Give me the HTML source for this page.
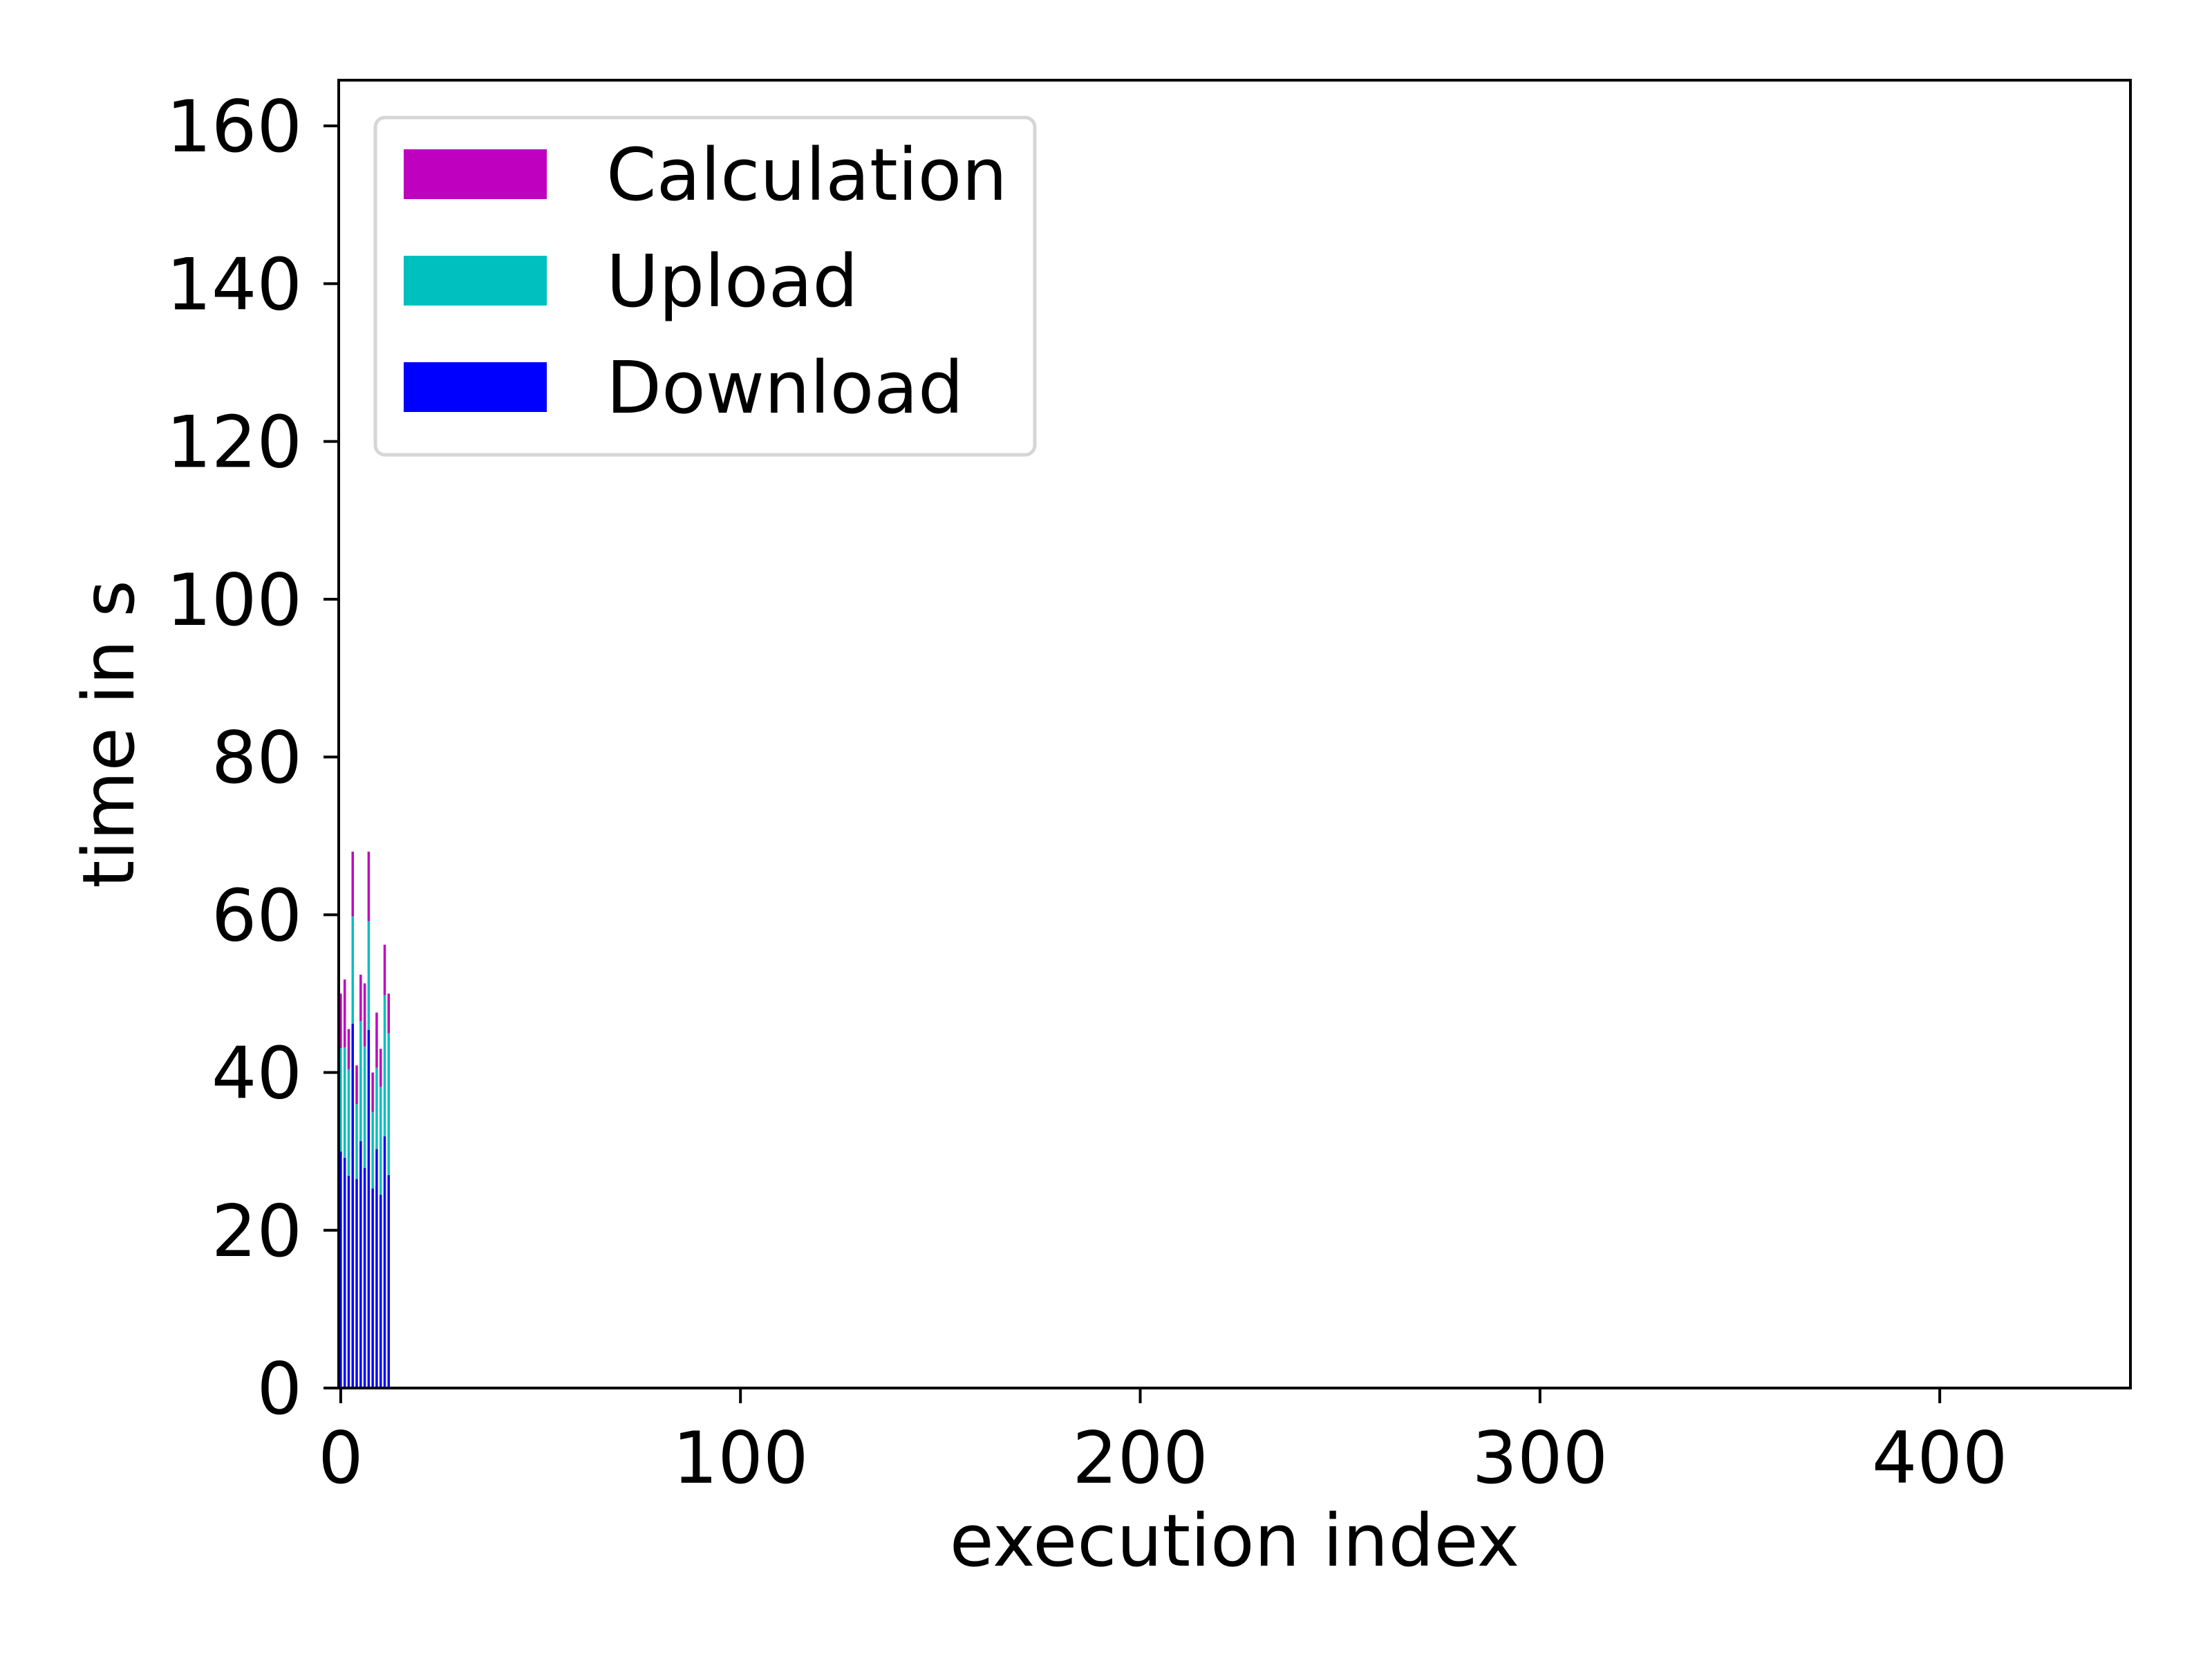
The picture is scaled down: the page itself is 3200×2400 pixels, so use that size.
<!DOCTYPE html>
<html><head><meta charset="utf-8"><style>
html,body{margin:0;padding:0;background:#fff;}
svg{display:block;font-family:"DejaVu Sans","Liberation Sans",sans-serif;}
</style></head><body>
<svg id="chart" width="3200" height="2400" viewBox="0 0 3200 2400">
<rect width="3200" height="2400" fill="#fff"/>
<g id="bars"></g>
<g id="axes"></g>
</svg>
<script>
const indices = [0,1,2,3,4,5,6,7,8,9,10,11,12];
const download = [30.0,29.2,26.9,46.2,26.5,31.3,27.9,45.4,25.3,30.3,24.5,31.9,27.0];
const upload = [13.1,14.0,13.5,13.6,9.5,15.2,15.4,13.8,9.7,10.3,13.7,17.9,18.0];
const calculation = [6.9,8.6,5.1,8.2,4.9,5.9,8.0,8.8,5.0,7.0,4.8,6.4,5.0];
const xTicks = [0,100,200,300,400];
const yTicks = [0,20,40,60,80,100,120,140,160];
const seriesNames = ["Calculation","Upload","Download"];

const NS="http://www.w3.org/2000/svg";
const L=490,R=3082,T=116,B=2008;
const xMin=-0.5,xMax=447.7,yMin=0,yMax=165.8;
const xs=v=>L+(v-xMin)/(xMax-xMin)*(R-L);
const ys=v=>B-(v-yMin)/(yMax-yMin)*(B-T);
function mk(tag,attrs,parent){const e=document.createElementNS(NS,tag);for(const k in attrs)e.setAttribute(k,attrs[k]);parent.appendChild(e);return e;}
const bars=document.getElementById('bars');
const axes=document.getElementById('axes');
const bw=0.6;
indices.forEach((x,i)=>{
  const segs=[[0,download[i],'#0000ff','download'],[download[i],download[i]+upload[i],'#00bfbf','upload'],[download[i]+upload[i],download[i]+upload[i]+calculation[i],'#bf00bf','calculation']];
  segs.forEach(s=>{
    const r=mk('rect',{x:xs(x-bw/2),y:ys(s[1]),width:xs(x+bw/2)-xs(x-bw/2),height:ys(s[0])-ys(s[1]),fill:s[2]},bars);
    
    
  });
});
const frame=mk('rect',{x:L,y:T,width:R-L,height:B-T,fill:'none',stroke:'#000','stroke-width':4},axes);


yTicks.forEach(v=>{
  const y=ys(v);
  const t=mk('line',{x1:L-22,x2:L,y1:y,y2:y,stroke:'#000','stroke-width':4},axes);
  
  
  const tx=mk('text',{x:437,y:y+37,'text-anchor':'end','font-size':103,fill:'#000'},axes);
  tx.textContent=v;
  
  
});
xTicks.forEach(v=>{
  const x=xs(v);
  const t=mk('line',{x1:x,x2:x,y1:B,y2:B+22,stroke:'#000','stroke-width':4},axes);
  
  
  const tx=mk('text',{x:x,y:2145,'text-anchor':'middle','font-size':103,fill:'#000'},axes);
  tx.textContent=v;
  
  
});
const xl=mk('text',{x:(L+R)/2,y:2265,'text-anchor':'middle','font-size':104,fill:'#000'},axes);
xl.textContent='execution index';


const yl=mk('text',{x:0,y:0,'text-anchor':'middle','font-size':103,fill:'#000',transform:'translate(193,'+((T+B)/2)+') rotate(-90)'},axes);
yl.textContent='time in s';


const lg=mk('g',{},axes);


mk('rect',{x:543,y:170,width:954,height:488,rx:14,fill:'#fff',stroke:'#d6d6d6','stroke-width':5},lg);
const colors=['#bf00bf','#00bfbf','#0000ff'];
seriesNames.forEach((n,i)=>{
  const y0=216+i*154;
  const p=mk('rect',{x:584,y:y0,width:207,height:72,fill:colors[i]},lg);
  
  
  const t=mk('text',{x:877,y:y0+73,'font-size':104,fill:'#000'},lg);
  t.textContent=n;
  
  
});
</script>
</body></html>
